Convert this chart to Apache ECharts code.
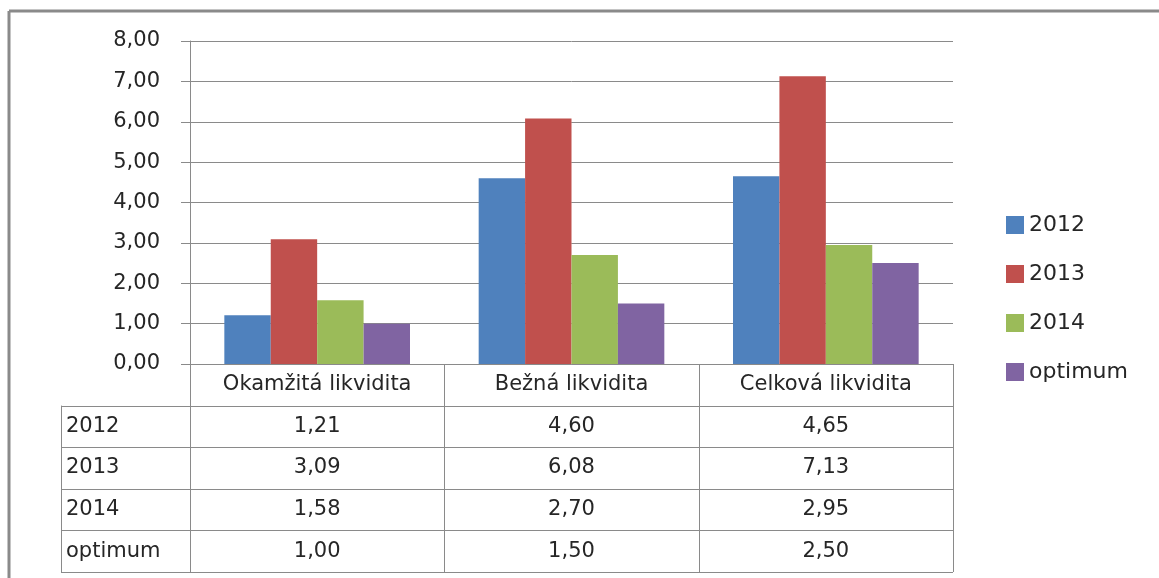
<!DOCTYPE html>
<html>
<head>
<meta charset="utf-8">
<script src="https://cdn.jsdelivr.net/npm/echarts@6/dist/echarts.min.js"></script>
<style>
    html, body { margin: 0; padding: 0; background: #fff; }
    #chart { width: 1159px; height: 578px; }
</style>
</head>
<body>
<div id="chart"></div>
<script>
var categories = ['Okamžitá likvidita', 'Bežná likvidita', 'Celková likvidita'];
var seriesNames = ['2012', '2013', '2014', 'optimum'];
var values2012 = [1.21, 4.60, 4.65];
var values2013 = [3.09, 6.08, 7.13];
var values2014 = [1.58, 2.70, 2.95];
var valuesOptimum = [1.00, 1.50, 2.50];
var yTicks = [0, 1, 2, 3, 4, 5, 6, 7, 8];

var colorList = ['#4f81bd', '#c0504d', '#9bbb59', '#8064a2'];
var allValues = [values2012, values2013, values2014, valuesOptimum];

// plot area (px)
var gridLeft = 190, gridTop = 41, gridRight = 953, gridBottom = 364;
var tableLeft = 61, rowH = 41.6;
var lineColor = '#8a8a8a';
var font = 'DejaVu Sans';

function fmt(v) {
    return v.toFixed(2).replace('.', ',');
}

var myChart = echarts.init(document.getElementById('chart'));

// data table under the plot
var graphic = [];
// outer frame (top + left visible)
graphic.push({ type: 'line', shape: { x1: 9, y1: 11, x2: 1159, y2: 11 }, style: { stroke: '#8a8a8a', lineWidth: 3 } });
graphic.push({ type: 'line', shape: { x1: 9, y1: 11, x2: 9, y2: 578 }, style: { stroke: '#8a8a8a', lineWidth: 3 } });

var colW = (gridRight - gridLeft) / categories.length;
var tableBottom = gridBottom + rowH * (seriesNames.length + 1);
for (var r = 1; r <= seriesNames.length + 1; r++) {
    var y = Math.round(gridBottom + rowH * r) + 0.5;
    graphic.push({ type: 'line', shape: { x1: tableLeft, y1: y, x2: gridRight, y2: y }, style: { stroke: lineColor, lineWidth: 1 } });
}
graphic.push({ type: 'line', shape: { x1: tableLeft + 0.5, y1: gridBottom + rowH, x2: tableLeft + 0.5, y2: tableBottom }, style: { stroke: lineColor, lineWidth: 1 } });
for (var c = 0; c <= categories.length; c++) {
    var x = Math.round(gridLeft + colW * c) + 0.5;
    graphic.push({ type: 'line', shape: { x1: x, y1: gridBottom, x2: x, y2: tableBottom }, style: { stroke: lineColor, lineWidth: 1 } });
}
for (var i = 0; i < seriesNames.length; i++) {
    var cy = gridBottom + rowH * (i + 1.5);
    graphic.push({
        type: 'text', x: tableLeft + 5, y: cy,
        style: { text: seriesNames[i], fill: '#262626', font: '21px "' + font + '"', textAlign: 'left', textVerticalAlign: 'middle' }
    });
    for (var j = 0; j < categories.length; j++) {
        graphic.push({
            type: 'text', x: gridLeft + colW * (j + 0.5), y: cy,
            style: { text: fmt(allValues[i][j]), fill: '#262626', font: '21px "' + font + '"', textAlign: 'center', textVerticalAlign: 'middle' }
        });
    }
}

var series = seriesNames.map(function (name, i) {
    return {
        name: name,
        type: 'bar',
        data: allValues[i],
        barGap: '0%',
        barCategoryGap: '27%',
        itemStyle: { color: colorList[i] }
    };
});

var option = {
    animation: false,
    backgroundColor: '#fff',
    color: colorList,
    textStyle: { fontFamily: font },
    grid: {
        left: gridLeft,
        top: gridTop,
        width: gridRight - gridLeft,
        height: gridBottom - gridTop
    },
    legend: {
        orient: 'vertical',
        left: 1001,
        top: 207,
        itemWidth: 18,
        itemHeight: 18,
        itemGap: 23,
        icon: 'rect',
        textStyle: { fontSize: 22, color: '#262626', fontFamily: font, lineHeight: 26 },
        data: seriesNames
    },
    xAxis: {
        type: 'category',
        data: categories,
        axisLine: { lineStyle: { color: lineColor } },
        axisTick: { show: false },
        axisLabel: { fontSize: 21, color: '#262626', margin: 10, interval: 0 }
    },
    yAxis: {
        type: 'value',
        min: yTicks[0],
        max: yTicks[yTicks.length - 1],
        interval: 1,
        axisLine: { show: true, lineStyle: { color: lineColor } },
        axisTick: { show: true, length: 9, lineStyle: { color: lineColor } },
        axisLabel: { fontSize: 21, color: '#262626', margin: 30, formatter: function (v) { return fmt(v); } },
        splitLine: { show: true, lineStyle: { color: lineColor } }
    },
    graphic: graphic,
    series: series
};

myChart.setOption(option);
</script>
</body>
</html>
